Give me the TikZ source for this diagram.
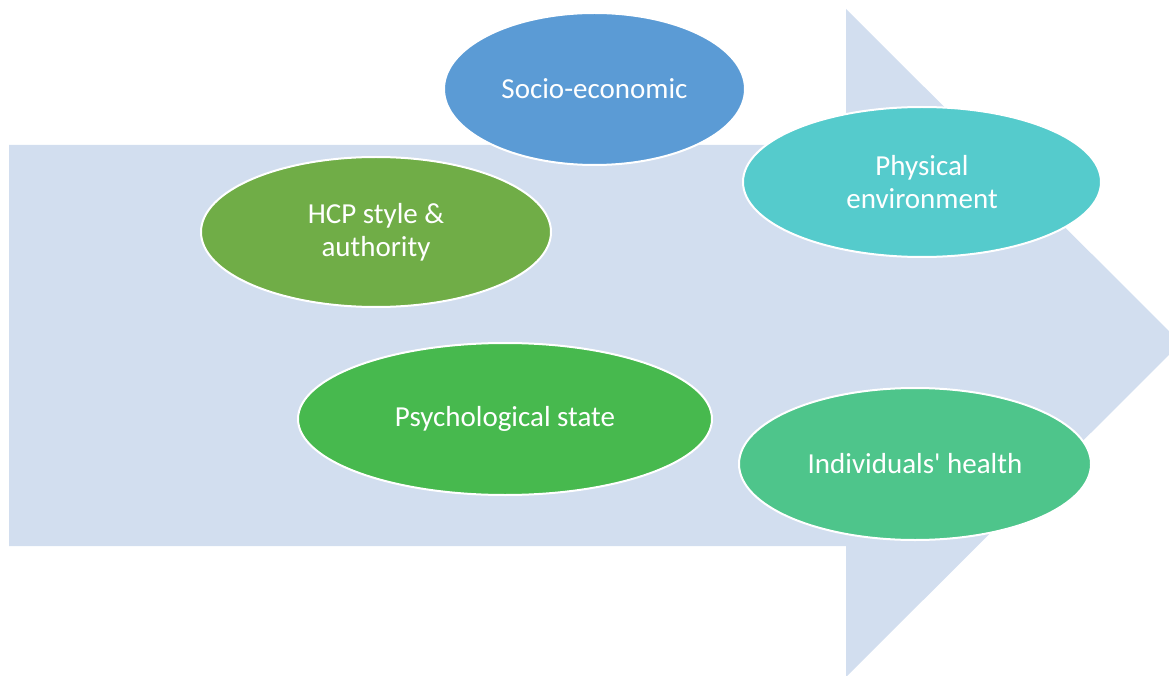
\documentclass[tikz,border=0pt]{standalone}
\usepackage{fontspec}
\setmainfont{Carlito}[Ligatures=TeXOff]
\usetikzlibrary{shapes.geometric}
\definecolor{arrowbg}{HTML}{D2DEEF}
\definecolor{cblue}{HTML}{5B9BD5}
\definecolor{cgreen}{HTML}{70AD47}
\definecolor{cteal}{HTML}{55CBCC}
\definecolor{cpsy}{HTML}{47B94E}
\definecolor{cind}{HTML}{4EC58B}
\tikzset{
  blob/.style={ellipse, draw=white, line width=2pt, text=white, align=center,
    inner sep=0pt, font=\fontsize{29}{33}\selectfont},
}
\begin{document}
\begin{tikzpicture}[x=1pt,y=-1pt]
\useasboundingbox (0,0) rectangle (1169,676);
\begin{scope}
\clip (0,0) rectangle (1169,676);
\fill[arrowbg] (9,145) -- (846,145) -- (846,9) -- (1181,343) -- (846,677) -- (846,546) -- (9,546) -- cycle;
\end{scope}
\node[blob, fill=cblue, minimum width=301pt, minimum height=152pt] (socio) at (594.5,89) {Socio-economic};
\node[blob, fill=cgreen, minimum width=350pt, minimum height=150pt] (hcp) at (376,232) {HCP style \&\\authority};
\node[blob, fill=cteal, minimum width=358pt, minimum height=150pt] (phys) at (922,182) {Physical\\environment};
\node[blob, fill=cpsy, minimum width=414pt, minimum height=152pt] (psy) at (505,419) {Psychological state};
\node[blob, fill=cind, minimum width=352pt, minimum height=152pt] (ind) at (915,464) {Individuals' health};
\end{tikzpicture}
\end{document}
